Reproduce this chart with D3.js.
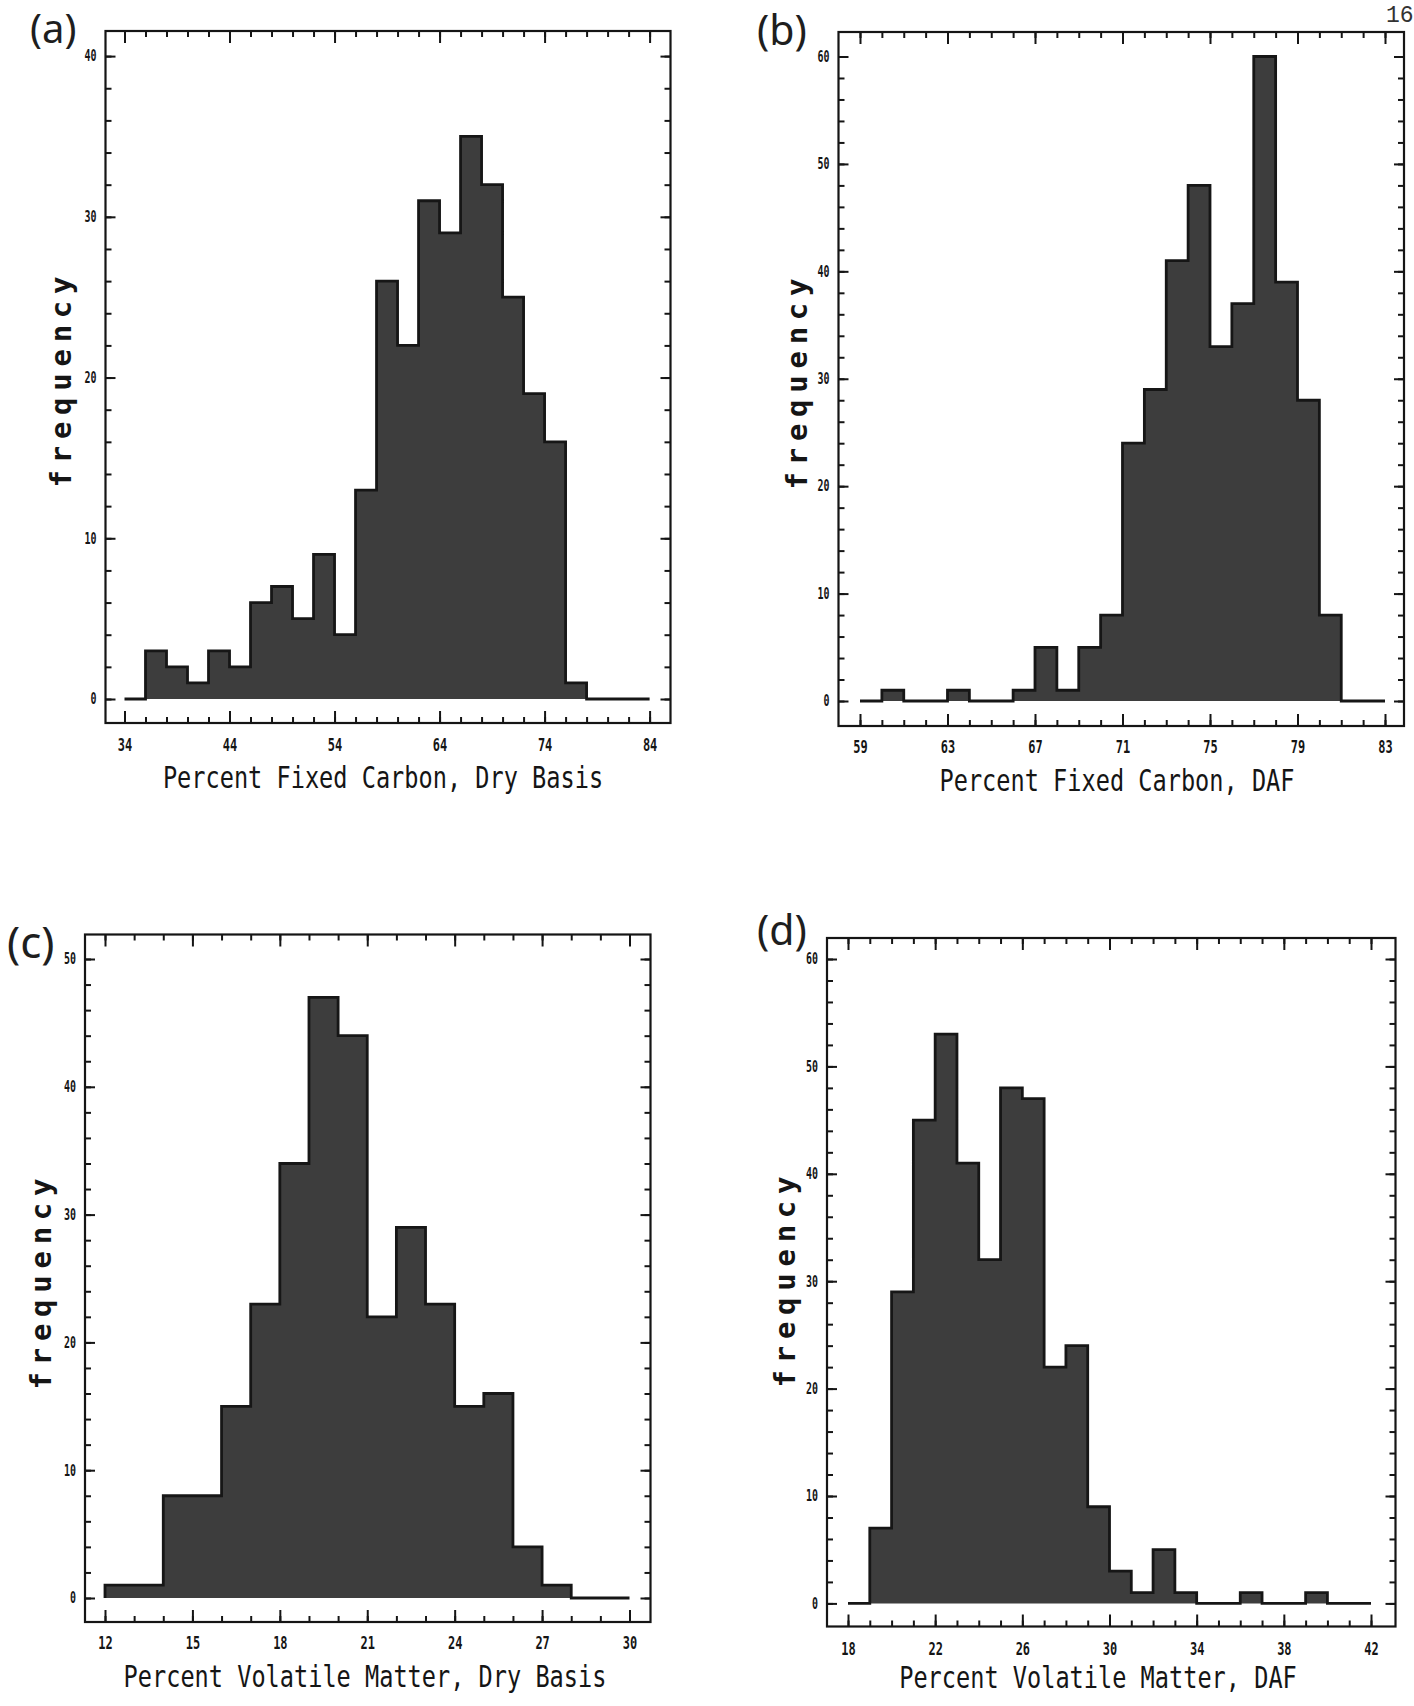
<!DOCTYPE html>
<html><head><meta charset="utf-8">
<script src="https://cdn.jsdelivr.net/npm/d3@7"></script>
<style>body{margin:0;background:#fff} svg{display:block}</style>
</head><body>
<svg id="chart" width="1414" height="1706"></svg>
<script>
// ---------------- data ----------------
// (a) Percent Fixed Carbon, Dry Basis — bins of width 2 starting at 34
const aBinStart = 34, aBinWidth = 2;
const aCounts = [0,3,2,1,3,2,6,7,5,9,4,13,26,22,31,29,35,32,25,19,16,1,0,0,0];
const aXTicks = [34,44,54,64,74,84];
const aYTicks = [0,10,20,30,40];

// (b) Percent Fixed Carbon, DAF — bins of width 1 starting at 59
const bBinStart = 59, bBinWidth = 1;
const bCounts = [0,1,0,0,1,0,0,1,5,1,5,8,24,29,41,48,33,37,60,39,28,8,0,0];
const bXTicks = [59,63,67,71,75,79,83];
const bYTicks = [0,10,20,30,40,50,60];

// (c) Percent Volatile Matter, Dry Basis — bins of width 1 starting at 12
const cBinStart = 12, cBinWidth = 1;
const cCounts = [1,1,8,8,15,23,34,47,44,22,29,23,15,16,4,1,0,0];
const cXTicks = [12,15,18,21,24,27,30];
const cYTicks = [0,10,20,30,40,50];

// (d) Percent Volatile Matter, DAF — bins of width 1 starting at 18
const dBinStart = 18, dBinWidth = 1;
const dCounts = [0,7,29,45,53,41,32,48,47,22,24,9,3,1,5,1,0,0,1,0,0,1,0,0];
const dXTicks = [18,22,26,30,34,38,42];
const dYTicks = [0,10,20,30,40,50,60];

const panelLetters = ["(a)","(b)","(c)","(d)"];
const xTitles = ["Percent Fixed Carbon, Dry Basis","Percent Fixed Carbon, DAF",
                 "Percent Volatile Matter, Dry Basis","Percent Volatile Matter, DAF"];
const yTitle = "frequency";

// ---------------- layout ----------------
const panels = [
  {counts:aCounts, start:aBinStart, width:aBinWidth, xTicks:aXTicks, yTicks:aYTicks, xMinor:2, yMinor:2,
   xPx:[124.5,649.6], yPx:[699,56.1], frame:[105.5,670.5,31,723],
   letter:[30,43], letterSize:40, xTitle:[383,788], yTitle:[71,382], tickBase:751},
  {counts:bCounts, start:bBinStart, width:bBinWidth, xTicks:bXTicks, yTicks:bYTicks, xMinor:1, yMinor:2,
   xPx:[860,1385], yPx:[701,56.5], frame:[838.5,1404,32,726],
   letter:[757,45], letterSize:41, xTitle:[1117,791], yTitle:[807,384], tickBase:753},
  {counts:cCounts, start:cBinStart, width:cBinWidth, xTicks:cXTicks, yTicks:cYTicks, xMinor:1, yMinor:2,
   xPx:[105,629.5], yPx:[1598,959], frame:[85,650.5,934.5,1622],
   letter:[7,958], letterSize:44, xTitle:[365,1687], yTitle:[51,1284], tickBase:1649},
  {counts:dCounts, start:dBinStart, width:dBinWidth, xTicks:dXTicks, yTicks:dYTicks, xMinor:1, yMinor:2,
   xPx:[848,1371], yPx:[1603.4,959], frame:[827,1395.5,938,1626.5],
   letter:[757,945], letterSize:41, xTitle:[1098,1688], yTitle:[795,1282], tickBase:1655}
];

const svg = d3.select("#chart");
const ink = "#151515";
const barFill = "#3d3d3d";

function range(a, b, s){ const out=[]; for(let v=a; v<=b+1e-9; v+=s) out.push(+v.toFixed(6)); return out; }

panels.forEach((p, i) => {
  const xMin = p.xTicks[0], xMax = p.xTicks[p.xTicks.length-1];
  const yMax = p.yTicks[p.yTicks.length-1];
  const x = d3.scaleLinear().domain([xMin, xMax]).range(p.xPx);
  const y = d3.scaleLinear().domain([0, yMax]).range(p.yPx);
  const [fl, fr, ft, fb] = p.frame;
  const g = svg.append("g");

  // histogram step points
  const pts = [[p.start, 0]];
  p.counts.forEach((c, k) => {
    const x0 = p.start + k*p.width, x1 = x0 + p.width;
    pts.push([x0, c], [x1, c]);
  });
  pts.push([p.start + p.counts.length*p.width, 0]);

  g.append("path").datum(pts)
    .attr("d", d3.area().x(d=>x(d[0])).y0(y(0)).y1(d=>y(d[1])))
    .attr("fill", barFill);
  g.append("path").datum(pts)
    .attr("d", d3.line().x(d=>x(d[0])).y(d=>y(d[1])))
    .attr("fill", "none").attr("stroke", "#161616").attr("stroke-width", 2.8)
    .attr("stroke-linejoin", "miter");

  // frame
  g.append("rect").attr("x", fl).attr("y", ft).attr("width", fr-fl).attr("height", fb-ft)
    .attr("fill", "none").attr("stroke", ink).attr("stroke-width", 2.2);

  const xMinorVals = range(xMin, xMax, p.xMinor);
  const yMinorVals = range(0, yMax, p.yMinor);

  function styleAxis(sel){
    sel.select(".domain").remove();
    sel.selectAll(".tick line").attr("stroke", ink).attr("stroke-width", 2);
  }
  // minor ticks
  g.append("g").attr("transform", `translate(0,${fb})`)
    .call(d3.axisBottom(x).tickValues(xMinorVals).tickSize(-6).tickFormat("")).call(styleAxis);
  g.append("g").attr("transform", `translate(0,${ft})`)
    .call(d3.axisTop(x).tickValues(xMinorVals).tickSize(-6).tickFormat("")).call(styleAxis);
  g.append("g").attr("transform", `translate(${fl},0)`)
    .call(d3.axisLeft(y).tickValues(yMinorVals).tickSize(-6).tickFormat("")).call(styleAxis);
  g.append("g").attr("transform", `translate(${fr},0)`)
    .call(d3.axisRight(y).tickValues(yMinorVals).tickSize(-6).tickFormat("")).call(styleAxis);

  // major ticks
  const bottom = g.append("g").attr("transform", `translate(0,${fb})`)
    .call(d3.axisBottom(x).tickValues(p.xTicks).tickSize(-12).tickPadding(0).tickFormat(d3.format("d")))
    .call(styleAxis);
  bottom.selectAll(".tick text")
    .attr("y", p.tickBase - fb).attr("dy", null)
    .attr("font-family", "DejaVu Sans Mono").attr("font-weight", "bold").attr("font-size", 17)
    .attr("fill", ink)
    .attr("textLength", d => String(d).length*7.2).attr("lengthAdjust", "spacingAndGlyphs");
  g.append("g").attr("transform", `translate(0,${ft})`)
    .call(d3.axisTop(x).tickValues(p.xTicks).tickSize(-12).tickFormat("")).call(styleAxis);
  const left = g.append("g").attr("transform", `translate(${fl},0)`)
    .call(d3.axisLeft(y).tickValues(p.yTicks).tickSize(-10).tickPadding(9).tickFormat(d3.format("d")))
    .call(styleAxis);
  left.selectAll(".tick text")
    .attr("font-family", "DejaVu Sans Mono").attr("font-weight", "bold").attr("font-size", 15)
    .attr("fill", ink)
    .attr("textLength", d => String(d).length*6).attr("lengthAdjust", "spacingAndGlyphs");
  g.append("g").attr("transform", `translate(${fr},0)`)
    .call(d3.axisRight(y).tickValues(p.yTicks).tickSize(-10).tickFormat("")).call(styleAxis);

  // titles
  const xt = xTitles[i];
  g.append("text").attr("x", p.xTitle[0]).attr("y", p.xTitle[1])
    .attr("text-anchor", "middle")
    .attr("font-family", "DejaVu Sans Mono").attr("font-size", 30).attr("fill", ink)
    .attr("textLength", xt.length*14.2).attr("lengthAdjust", "spacingAndGlyphs")
    .text(xt);
  g.append("text").attr("transform", `translate(${p.yTitle[0]},${p.yTitle[1]}) rotate(-90)`)
    .attr("text-anchor", "middle")
    .attr("font-family", "DejaVu Sans Mono").attr("font-weight", "bold").attr("font-size", 29).attr("fill", ink)
    .attr("textLength", 211).attr("lengthAdjust", "spacing")
    .text(yTitle);
  g.append("text").attr("x", p.letter[0]).attr("y", p.letter[1])
    .attr("font-family", "Noto Sans").attr("font-size", p.letterSize).attr("fill", "#1e1e1e")
    .text(panelLetters[i]);
});

// page number (cut by the right edge, as in the scanned page)
svg.append("text").attr("x", 1386).attr("y", 22)
  .attr("font-family", "Liberation Mono").attr("font-size", 23).attr("fill", "#333")
  .text("16");
</script>
</body></html>
